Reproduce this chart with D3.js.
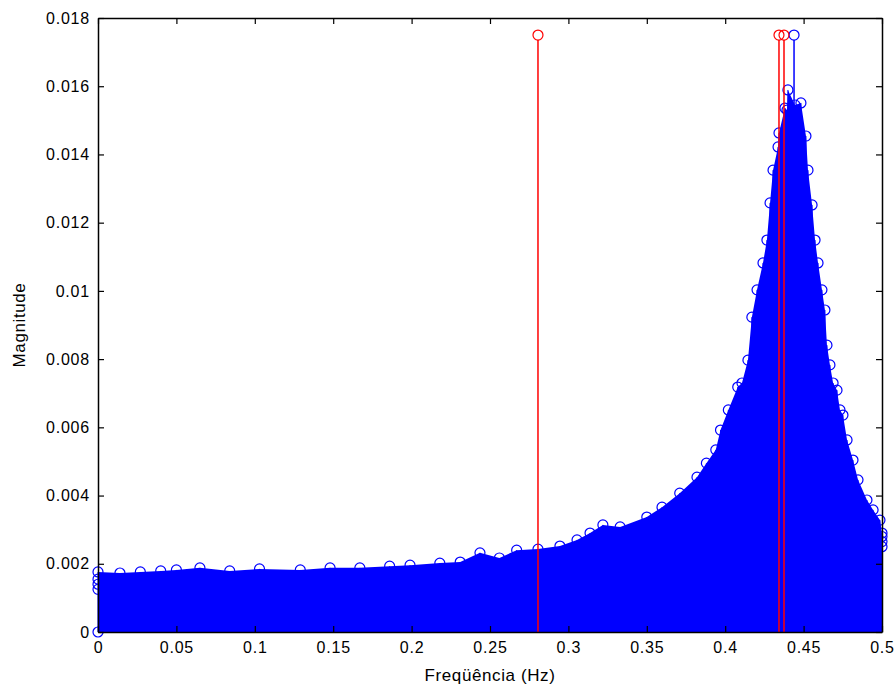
<!DOCTYPE html>
<html>
<head>
<meta charset="utf-8">
<script src="https://cdn.jsdelivr.net/npm/d3@7"></script>
<style>
  html, body { margin: 0; padding: 0; background: #fff; }
  svg { display: block; }
  text { font-family: "Liberation Sans", Arial, sans-serif; }
</style>
</head>
<body>
<svg id="chart" width="896" height="689"></svg>
<script>
// ---- data ----
const xTicks = [0, 0.05, 0.1, 0.15, 0.2, 0.25, 0.3, 0.35, 0.4, 0.45, 0.5];
const xTickLabels = ["0", "0.05", "0.1", "0.15", "0.2", "0.25", "0.3", "0.35", "0.4", "0.45", "0.5"];
const yTicks = [0, 0.002, 0.004, 0.006, 0.008, 0.01, 0.012, 0.014, 0.016, 0.018];
const yTickLabels = ["0", "0.002", "0.004", "0.006", "0.008", "0.01", "0.012", "0.014", "0.016", "0.018"];

// upper envelope of the dense blue stem spectrum (frequency, magnitude)
const envFreq = [0.000, 0.014, 0.027, 0.040, 0.050, 0.065, 0.084, 0.103, 0.129, 0.148, 0.167, 0.186, 0.199,
  0.218, 0.231, 0.2436, 0.256, 0.267, 0.2806, 0.2946, 0.3055, 0.3138, 0.322, 0.333, 0.350, 0.3597, 0.371,
  0.382, 0.388, 0.394, 0.397, 0.402, 0.408, 0.4107, 0.4145, 0.417, 0.4203, 0.4241, 0.4266, 0.4286, 0.4305,
  0.4337, 0.4343, 0.4381, 0.4394, 0.4400, 0.4445, 0.4483, 0.4515, 0.4528, 0.4554, 0.4573, 0.4592, 0.4617,
  0.4636, 0.4649, 0.4668, 0.4688, 0.4713, 0.4732, 0.4751, 0.4777, 0.4815, 0.4847, 0.4904, 0.4943, 0.4987, 0.500];
const envMag = [0.00176, 0.00173, 0.00176, 0.00179, 0.00182, 0.00188, 0.00179, 0.00185, 0.00182, 0.00188, 0.00188,
  0.00193, 0.00196, 0.00202, 0.00205, 0.00232, 0.00217, 0.00240, 0.00243, 0.00252, 0.00270, 0.00290, 0.00314,
  0.00308, 0.00337, 0.00366, 0.00407, 0.00454, 0.00495, 0.00534, 0.00592, 0.00651, 0.00718, 0.00730, 0.00797,
  0.00923, 0.01003, 0.01082, 0.01149, 0.01258, 0.01354, 0.01422, 0.01463, 0.01536, 0.01530, 0.01589, 0.01545,
  0.01551, 0.01454, 0.01354, 0.01252, 0.01149, 0.01082, 0.01003, 0.00944, 0.00841, 0.00783, 0.00730, 0.00709,
  0.00651, 0.00636, 0.00563, 0.00504, 0.00446, 0.00387, 0.00358, 0.00328, 0.00290];

// extra low samples visible at the plot edges
const edgeFreq = [0, 0, 0, 0, 0.5, 0.5, 0.5];
const edgeMag = [0, 0.00125, 0.00140, 0.00155, 0.00250, 0.00265, 0.00280];

// tall highlighted stems
const redFreq = [0.2806, 0.4343, 0.4375];
const redMag = [0.0175, 0.0175, 0.0175];
const blueTallFreq = [0.4439];
const blueTallMag = [0.0175];

// ---- drawing ----
const svg = d3.select("#chart");
const m = { left: 98, right: 882, top: 18, bottom: 632 };
const x = d3.scaleLinear().domain([0, 0.5]).range([m.left, m.right]);
const y = d3.scaleLinear().domain([0, 0.018]).range([m.bottom, m.top]);

const BLUE = "#0000ff", RED = "#ff0000";
const R = 5;

const env = envFreq.map((f, i) => ({ f, v: envMag[i] }));

// dense stems rendered as filled region
svg.append("path")
  .datum(env)
  .attr("d", d3.area().x(d => x(d.f)).y0(y(0)).y1(d => y(d.v)))
  .attr("fill", BLUE);

const g = svg.append("g");
// envelope stems + markers
g.selectAll(".envStem").data(env).join("line")
  .attr("x1", d => x(d.f)).attr("x2", d => x(d.f))
  .attr("y1", y(0)).attr("y2", d => y(d.v))
  .attr("stroke", BLUE).attr("stroke-width", 1);
g.selectAll(".envMk").data(env).join("circle")
  .attr("cx", d => x(d.f)).attr("cy", d => y(d.v)).attr("r", R)
  .attr("fill", "none").attr("stroke", BLUE).attr("stroke-width", 1.2);

const edge = edgeFreq.map((f, i) => ({ f, v: edgeMag[i] }));
g.selectAll(".edgeMk").data(edge).join("circle")
  .attr("cx", d => x(d.f)).attr("cy", d => y(d.v)).attr("r", R)
  .attr("fill", "none").attr("stroke", BLUE).attr("stroke-width", 1.2);

// tall blue stem
const bt = blueTallFreq.map((f, i) => ({ f, v: blueTallMag[i] }));
g.selectAll(".btStem").data(bt).join("line")
  .attr("x1", d => x(d.f)).attr("x2", d => x(d.f))
  .attr("y1", y(0)).attr("y2", d => y(d.v) + R)
  .attr("stroke", BLUE).attr("stroke-width", 1.5);
g.selectAll(".btMk").data(bt).join("circle")
  .attr("cx", d => x(d.f)).attr("cy", d => y(d.v)).attr("r", R)
  .attr("fill", "none").attr("stroke", BLUE).attr("stroke-width", 1.2);

// red stems
const rd = redFreq.map((f, i) => ({ f, v: redMag[i] }));
g.selectAll(".rStem").data(rd).join("line")
  .attr("x1", d => x(d.f)).attr("x2", d => x(d.f))
  .attr("y1", y(0)).attr("y2", d => y(d.v) + R)
  .attr("stroke", RED).attr("stroke-width", 1.5);
g.selectAll(".rMk").data(rd).join("circle")
  .attr("cx", d => x(d.f)).attr("cy", d => y(d.v)).attr("r", R)
  .attr("fill", "none").attr("stroke", RED).attr("stroke-width", 1.2);

// ---- axes (MATLAB style box with inward ticks) ----
const fontSize = "16px";
const tickLen = 6;
const axB = svg.append("g").attr("transform", `translate(0,${m.bottom})`)
  .call(d3.axisBottom(x).tickValues(xTicks).tickFormat((d, i) => xTickLabels[i]).tickSizeInner(-tickLen).tickSizeOuter(0).tickPadding(10));
const axT = svg.append("g").attr("transform", `translate(0,${m.top})`)
  .call(d3.axisTop(x).tickValues(xTicks).tickFormat("").tickSizeInner(-tickLen).tickSizeOuter(0));
const axL = svg.append("g").attr("transform", `translate(${m.left},0)`)
  .call(d3.axisLeft(y).tickValues(yTicks).tickFormat((d, i) => yTickLabels[i]).tickSizeInner(-tickLen).tickSizeOuter(0).tickPadding(8));
const axR = svg.append("g").attr("transform", `translate(${m.right},0)`)
  .call(d3.axisRight(y).tickValues(yTicks).tickFormat("").tickSizeInner(-tickLen).tickSizeOuter(0));

[axB, axT, axL, axR].forEach(a => {
  a.selectAll(".domain").attr("stroke", "#000").attr("stroke-width", 1.5);
  a.selectAll(".tick line").attr("stroke", "#000").attr("stroke-width", 1.2);
  a.selectAll("text").attr("fill", "#000").style("font-size", fontSize)
    .style("font-family", "'Liberation Sans', Arial, sans-serif").style("letter-spacing", "0.8px");
});

// axis titles
svg.append("text")
  .attr("x", (m.left + m.right) / 2).attr("y", 681)
  .attr("text-anchor", "middle").style("font-size", "17px").style("letter-spacing", "0.6px")
  .text("Freqüência (Hz)");
svg.append("text")
  .attr("transform", `translate(25,${(m.top + m.bottom) / 2}) rotate(-90)`)
  .attr("text-anchor", "middle").style("font-size", "17px").style("letter-spacing", "0.6px")
  .text("Magnitude");
</script>
</body>
</html>
